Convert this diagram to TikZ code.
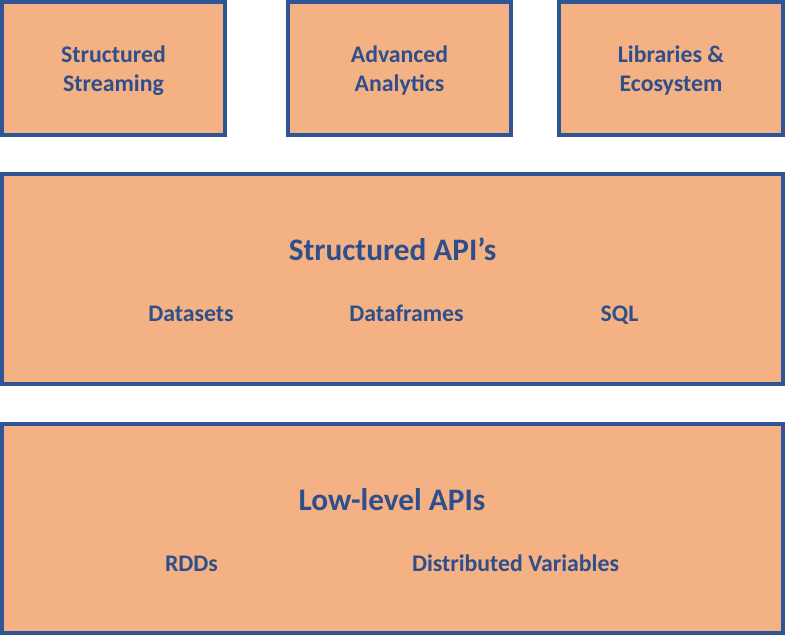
\documentclass[tikz,border=0pt]{standalone}
\usepackage{fontspec}
\setmainfont{Carlito}
\definecolor{boxfill}{HTML}{F4B183}
\definecolor{boxline}{HTML}{2F5597}
\definecolor{txt}{HTML}{2F4E8C}
\begin{document}
\begin{tikzpicture}[x=1pt,y=-1pt,
  layer/.style={draw=boxline, fill=boxfill, line width=4pt, rectangle, inner sep=0pt},
  small/.style={anchor=base, inner sep=0pt, text=txt, font=\bfseries\fontsize{23.8}{29}\selectfont},
  big/.style={anchor=base, inner sep=0pt, text=txt, font=\bfseries\fontsize{31.3}{38}\selectfont}]
\useasboundingbox (0,0) rectangle (785,635);
% top boxes
\node[layer, minimum width=223pt, minimum height=133pt] (ss) at (113.5,68.5) {};
\node[layer, minimum width=223pt, minimum height=133pt] (aa) at (399.5,68.5) {};
\node[layer, minimum width=224pt, minimum height=133pt] (le) at (671,68.5) {};
\node[small] (ss1) at (113.5,62) {Structured};
\node[small] (ss2) at (113.5,91) {Streaming};
\node[small] (aa1) at (399.5,62) {Advanced};
\node[small] (aa2) at (399.5,91) {Analytics};
\node[small] (le1) at (671,62) {Libraries \&};
\node[small] (le2) at (671,91) {Ecosystem};
% structured APIs
\node[layer, minimum width=781pt, minimum height=210pt] (sa) at (392.5,279) {};
\node[big] (sat) at (392.5,260) {Structured API’s};
\node[small] (ds) at (191,321) {Datasets};
\node[small] (df) at (406.5,321) {Dataframes};
\node[small] (sql) at (619.5,321) {SQL};
% low level
\node[layer, minimum width=781pt, minimum height=209pt] (ll) at (392.5,528.5) {};
\node[big] (llt) at (392,510) {Low-level APIs};
\node[small] (rdd) at (191.5,571) {RDDs};
\node[small] (dv) at (515.5,571) {Distributed Variables};
\end{tikzpicture}
\end{document}
